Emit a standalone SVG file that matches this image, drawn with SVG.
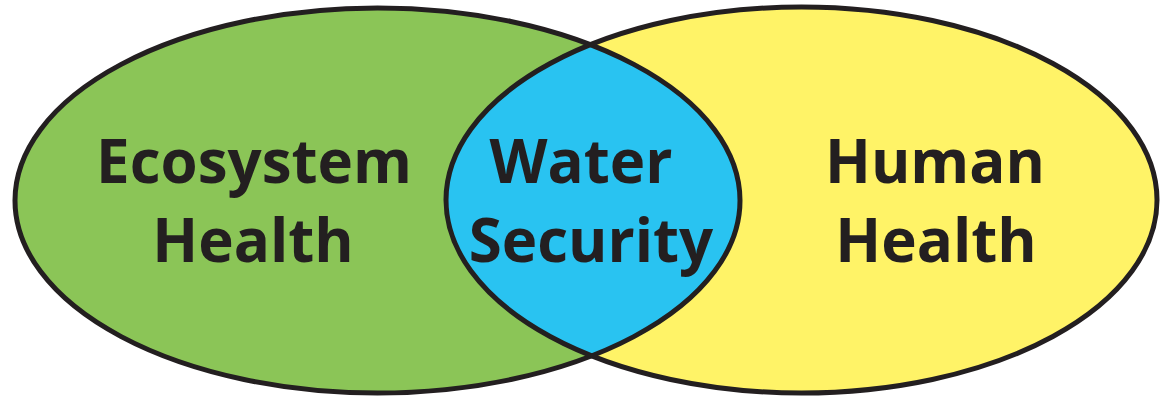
<svg xmlns="http://www.w3.org/2000/svg" width="1162" height="400" viewBox="0 0 1162 400">
  <style>
    .outline { fill: none; stroke: #231F20; stroke-width: 5; }
    .label { font-family: "Open Sans", "Liberation Sans", sans-serif; font-weight: 700; font-size: 60px; fill: #231F20; text-anchor: middle; }
  </style>
  <defs>
    <clipPath id="clipLeft">
      <ellipse cx="377.5" cy="200.5" rx="362.5" ry="192.5"/>
    </clipPath>
  </defs>
  <rect width="1162" height="400" fill="#ffffff"/>
  <g id="ecosystem-health">
    <ellipse cx="377.5" cy="200.5" rx="362.5" ry="192.5" fill="#8BC557"/>
  </g>
  <g id="human-health">
    <ellipse cx="801.5" cy="200" rx="355.5" ry="193" fill="#FFF367"/>
  </g>
  <g id="water-security">
    <ellipse cx="801.5" cy="200" rx="355.5" ry="193" fill="#29C3F1" clip-path="url(#clipLeft)"/>
  </g>
  <g id="outlines">
    <ellipse class="outline" cx="377.5" cy="200.5" rx="362.5" ry="192.5"/>
    <ellipse class="outline" cx="801.5" cy="200" rx="355.5" ry="193"/>
  </g>
  <g id="labels">
    <text class="label" x="254" y="183">Ecosystem</text>
    <text class="label" x="253" y="262">Health</text>
    <text class="label" x="581" y="183">Water</text>
    <text class="label" x="591" y="262">Security</text>
    <text class="label" x="935" y="183">Human</text>
    <text class="label" x="936" y="262">Health</text>
  </g>
</svg>
